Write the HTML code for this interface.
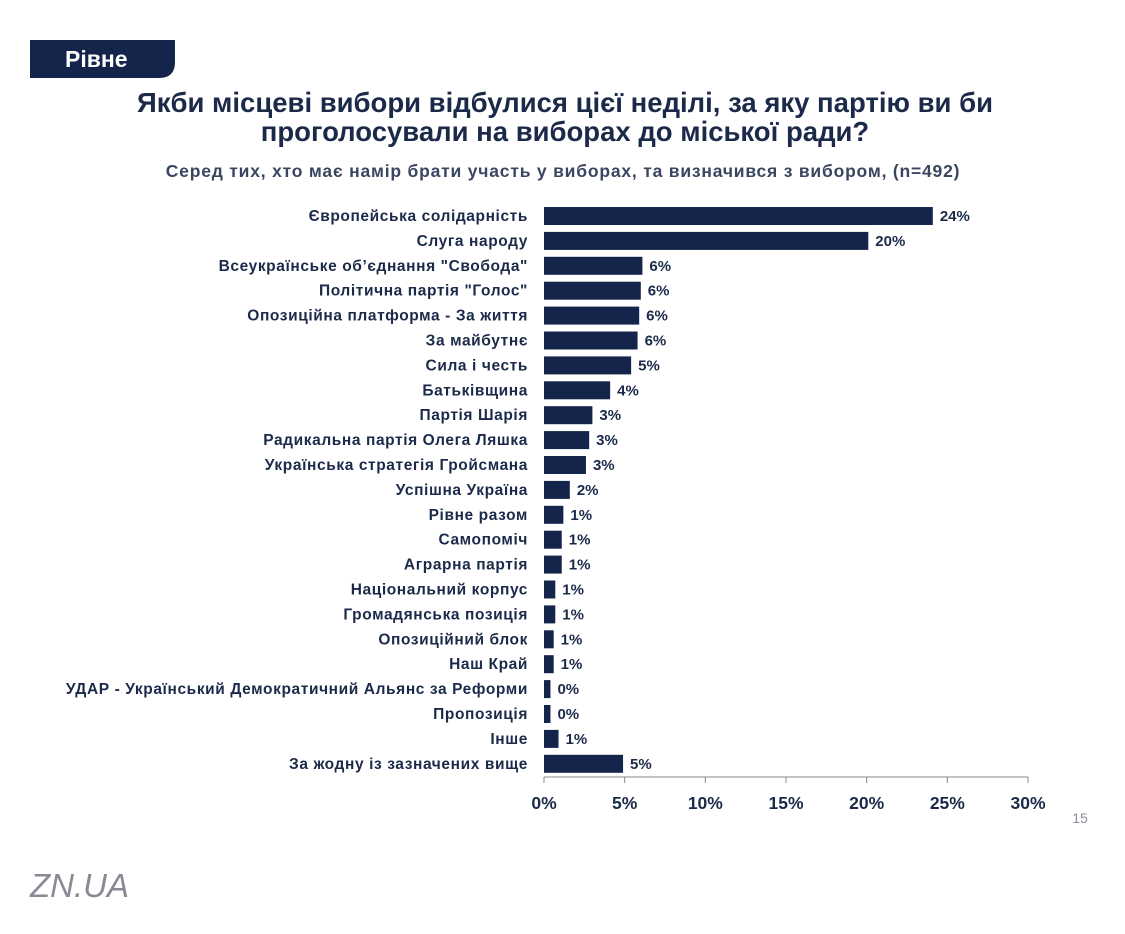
<!DOCTYPE html>
<html><head><meta charset="utf-8"><style>
body{margin:0;background:#fff;width:1125px;height:934px;overflow:hidden;font-family:"Liberation Sans","DejaVu Sans",sans-serif}
svg{display:block}
</style></head><body>
<svg id="c" width="1125" height="934">
<path d="M30,40 H175 V62 Q175,78 159,78 H30 Z" fill="#14244a"/>
<text x="65" y="67" font-size="23" font-weight="bold" fill="#fff">Рівне</text>
<text x="565" y="112" text-anchor="middle" font-size="27.5" font-weight="bold" fill="#1c2a4a">Якби місцеві вибори відбулися цієї неділі, за яку партію ви би</text>
<text x="565" y="141" text-anchor="middle" font-size="27.5" font-weight="bold" fill="#1c2a4a">проголосували на виборах до міської ради?</text>
<text x="563" y="177" text-anchor="middle" font-size="17.5" font-weight="bold" letter-spacing="0.8" fill="#3a4660">Серед тих, хто має намір брати участь у виборах, та визначився з вибором, (n=492)</text>
<g id="bars"></g>
<text x="1080" y="823" text-anchor="middle" font-size="14" fill="#8a8f99">15</text>
<text x="30" y="897" font-size="33" font-style="italic" fill="#8a8a96">ZN.UA</text>
</svg>
<script>
const categories=["Європейська солідарність","Слуга народу","Всеукраїнське об’єднання \"Свобода\"","Політична партія \"Голос\"","Опозиційна платформа - За життя","За майбутнє","Сила і честь","Батьківщина","Партія Шарія","Радикальна партія Олега Ляшка","Українська стратегія Гройсмана","Успішна Україна","Рівне разом","Самопоміч","Аграрна партія","Національний корпус","Громадянська позиція","Опозиційний блок","Наш Край","УДАР - Український Демократичний Альянс за Реформи","Пропозиція","Інше","За жодну із зазначених вище"];
const values=[24.1,20.1,6.1,6.0,5.9,5.8,5.4,4.1,3.0,2.8,2.6,1.6,1.2,1.1,1.1,0.7,0.7,0.6,0.6,0.4,0.4,0.9,4.9];
const valueLabels=["24%","20%","6%","6%","6%","6%","5%","4%","3%","3%","3%","2%","1%","1%","1%","1%","1%","1%","1%","0%","0%","1%","5%"];
const ticks=[0,5,10,15,20,25,30];
const NS="http://www.w3.org/2000/svg";
const g=document.getElementById('bars');
const x0=544,x1=1028,xmax=30,yTop=216,step=24.9,bh=18;
const X=v=>x0+(x1-x0)*v/xmax;
const Y=i=>yTop+i*step;
function mk(t,a){const e=document.createElementNS(NS,t);for(const k in a)e.setAttribute(k,a[k]);g.appendChild(e);return e;}
categories.forEach((c,i)=>{
 const r=mk('rect',{x:x0,y:Y(i)-bh/2,width:X(values[i])-x0,height:bh,fill:'#14244a'});
 
 
 const l=mk('text',{x:528,y:Y(i)+5,'text-anchor':'end','font-size':15.5,'letter-spacing':0.6,'font-weight':'bold',fill:'#1c2a4a'});
 l.textContent=c;
 
 
 const v=mk('text',{x:X(values[i])+7,y:Y(i)+5,'font-size':15,'font-weight':'bold',fill:'#1c2a4a'});
 v.textContent=valueLabels[i];
 
 
});
const ax=mk('line',{x1:x0,x2:x1,y1:777,y2:777,stroke:'#888','stroke-width':1});


ticks.forEach(t=>{
 const tk=mk('line',{x1:X(t),x2:X(t),y1:777,y2:783,stroke:'#888'});
 
 
 const tl=mk('text',{x:X(t),y:809,'text-anchor':'middle','font-size':17.5,'font-weight':'bold',fill:'#1c2a4a'});
 tl.textContent=t+'%';
 
 
});
</script>
</body></html>
